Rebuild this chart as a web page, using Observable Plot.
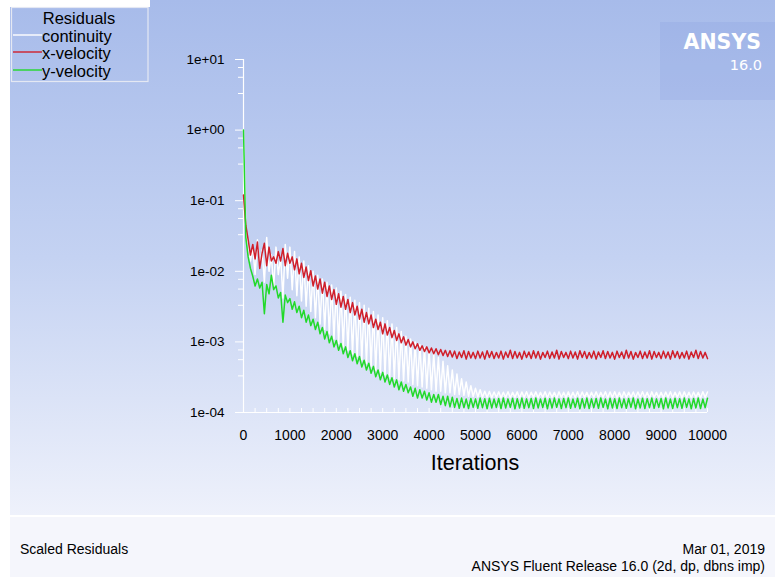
<!DOCTYPE html>
<html>
<head>
<meta charset="utf-8">
<script src="https://cdn.jsdelivr.net/npm/d3@7"></script>
<script src="https://cdn.jsdelivr.net/npm/@observablehq/plot@0.6"></script>
<style>
  html, body { margin: 0; padding: 0; background: #ffffff; }
  #wrap { position: relative; width: 775px; height: 577px; overflow: hidden; background: #ffffff; }
  #bg { position: absolute; left: 10px; top: 0; width: 765px; height: 515px;
        background: linear-gradient(to bottom, #a7bbea 0%, #c4d2f2 50%, #eef1fb 100%); }
  #sep { position: absolute; left: 10px; top: 515px; width: 765px; height: 2px; background: #ffffff; }
  #panel { position: absolute; left: 10px; top: 517px; width: 765px; height: 60px; background: #f5f6fc; }
  #chart { position: absolute; left: 0; top: 0; }
  #over { position: absolute; left: 0; top: 0; }
</style>
</head>
<body>
<div id="wrap">
  <div id="bg"></div>
  <div id="sep"></div>
  <div id="panel"></div>
  <div id="chart"></div>
</div>
<script>
// ---------- data ----------
const seriesNames = ["continuity", "x-velocity", "y-velocity"];
const seriesColors = ["#ffffff", "#d01f2b", "#22d92a"];

const iterations = [
  0, 50, 100, 150, 200, 250, 300, 350, 400, 450,
  500, 550, 600, 650, 700, 750, 800, 850, 900, 950,
  1000, 1050, 1100, 1150, 1200, 1250, 1300, 1350, 1400, 1450,
  1500, 1550, 1600, 1650, 1700, 1750, 1800, 1850, 1900, 1950,
  2000, 2050, 2100, 2150, 2200, 2250, 2300, 2350, 2400, 2450,
  2500, 2550, 2600, 2650, 2700, 2750, 2800, 2850, 2900, 2950,
  3000, 3050, 3100, 3150, 3200, 3250, 3300, 3350, 3400, 3450,
  3500, 3550, 3600, 3650, 3700, 3750, 3800, 3850, 3900, 3950,
  4000, 4050, 4100, 4150, 4200, 4250, 4300, 4350, 4400, 4450,
  4500, 4550, 4600, 4650, 4700, 4750, 4800, 4850, 4900, 4950,
  5000, 5050, 5100, 5150, 5200, 5250, 5300, 5350, 5400, 5450,
  5500, 5550, 5600, 5650, 5700, 5750, 5800, 5850, 5900, 5950,
  6000, 6050, 6100, 6150, 6200, 6250, 6300, 6350, 6400, 6450,
  6500, 6550, 6600, 6650, 6700, 6750, 6800, 6850, 6900, 6950,
  7000, 7050, 7100, 7150, 7200, 7250, 7300, 7350, 7400, 7450,
  7500, 7550, 7600, 7650, 7700, 7750, 7800, 7850, 7900, 7950,
  8000, 8050, 8100, 8150, 8200, 8250, 8300, 8350, 8400, 8450,
  8500, 8550, 8600, 8650, 8700, 8750, 8800, 8850, 8900, 8950,
  9000, 9050, 9100, 9150, 9200, 9250, 9300, 9350, 9400, 9450,
  9500, 9550, 9600, 9650, 9700, 9750, 9800, 9850, 9900, 9950,
  10000
];

const continuity = [
  1.0, 0.04, 0.025, 0.014, 0.022, 0.009, 0.028, 0.012, 0.02, 0.007,
  0.03, 0.01, 0.017, 0.006, 0.022, 0.009, 0.016, 0.0042, 0.024, 0.008,
  0.022, 0.0055, 0.019, 0.0045, 0.016, 0.0038, 0.014, 0.0032, 0.012, 0.0027,
  0.01, 0.0022, 0.0088, 0.0018, 0.0078, 0.0015, 0.007, 0.0013, 0.0064, 0.0011,
  0.0058, 0.00095, 0.0052, 0.00085, 0.0047, 0.00076, 0.0043, 0.00068, 0.0039, 0.00062,
  0.0036, 0.00056, 0.0033, 0.0005, 0.003, 0.00045, 0.0027, 0.0004, 0.0024, 0.00037,
  0.0022, 0.00034, 0.002, 0.00032, 0.0018, 0.0003, 0.0016, 0.00029, 0.0014, 0.00028,
  0.0012, 0.00027, 0.0011, 0.00025, 0.001, 0.00024, 0.00092, 0.00023, 0.00083, 0.00022,
  0.00075, 0.00021, 0.00068, 0.0002, 0.0006, 0.0002, 0.00053, 0.00019, 0.00046, 0.00019,
  0.0004, 0.00018, 0.00035, 0.00018, 0.0003, 0.000175, 0.00027, 0.00017, 0.00024, 0.000168,
  0.00022, 0.000166, 0.00021, 0.000164, 0.0002, 0.000163, 0.000198, 0.000162, 0.000195, 0.000163,
  0.000196, 0.000161, 0.000194, 0.000163, 0.000197, 0.000162, 0.000193, 0.000164, 0.000196, 0.000161,
  0.000195, 0.000163, 0.000197, 0.000161, 0.000194, 0.000164, 0.000196, 0.000162, 0.000193, 0.000163,
  0.000197, 0.000162, 0.000195, 0.000164, 0.000193, 0.000161, 0.000196, 0.000163, 0.000194, 0.000162,
  0.000196, 0.000161, 0.000194, 0.000163, 0.000197, 0.000162, 0.000195, 0.000164, 0.000193, 0.000161,
  0.000194, 0.000163, 0.000196, 0.000162, 0.000193, 0.000164, 0.000197, 0.000161, 0.000195, 0.000163,
  0.000197, 0.000162, 0.000193, 0.000161, 0.000196, 0.000163, 0.000194, 0.000164, 0.000195, 0.000162,
  0.000195, 0.000164, 0.000197, 0.000162, 0.000194, 0.000161, 0.000196, 0.000163, 0.000193, 0.000162,
  0.000193, 0.000161, 0.000195, 0.000163, 0.000197, 0.000162, 0.000194, 0.000164, 0.000196, 0.000161,
  0.000196, 0.000163, 0.000194, 0.000162, 0.000195, 0.000164, 0.000193, 0.000161, 0.000197, 0.000163,
  0.000195
];

const xVelocity = [
  0.12, 0.045, 0.028, 0.017, 0.024, 0.015, 0.026, 0.011, 0.018, 0.025,
  0.012, 0.022, 0.014, 0.016, 0.013, 0.019, 0.014, 0.021, 0.012, 0.018,
  0.013, 0.016, 0.0105, 0.015, 0.0092, 0.013, 0.0082, 0.0115, 0.0074, 0.0102,
  0.0062, 0.0086, 0.0056, 0.0078, 0.0049, 0.007, 0.0044, 0.0062, 0.004, 0.0055,
  0.0034, 0.0048, 0.0031, 0.0044, 0.0029, 0.004, 0.0026, 0.0036, 0.0024, 0.0032,
  0.0021, 0.0029, 0.0019, 0.0026, 0.0018, 0.0024, 0.0016, 0.0021, 0.0015, 0.0019,
  0.0013, 0.0018, 0.00125, 0.0016, 0.00115, 0.00145, 0.00105, 0.0013, 0.00097, 0.00118,
  0.0009, 0.00108, 0.00085, 0.001, 0.0008, 0.00094, 0.00076, 0.00088, 0.00073, 0.00085,
  0.0007, 0.00082, 0.00068, 0.0008, 0.00066, 0.00078, 0.00064, 0.00076, 0.00062, 0.00075,
  0.00061, 0.00074, 0.00058, 0.00072, 0.0006, 0.00075, 0.00057, 0.00073, 0.00059, 0.00071,
  0.00058, 0.00074, 0.00059, 0.00072, 0.00057, 0.00075, 0.0006, 0.00073, 0.00058, 0.00071,
  0.00059, 0.00074, 0.00057, 0.00072, 0.0006, 0.00076, 0.00058, 0.00073, 0.00059, 0.00071,
  0.00057, 0.00074, 0.0006, 0.00072, 0.00058, 0.00075, 0.00059, 0.00073, 0.00057, 0.00071,
  0.0006, 0.00074, 0.00058, 0.00072, 0.00059, 0.00076, 0.00057, 0.00073, 0.0006, 0.00071,
  0.00058, 0.00074, 0.00059, 0.00072, 0.00057, 0.00075, 0.0006, 0.00073, 0.00058, 0.00071,
  0.00059, 0.00074, 0.00057, 0.00072, 0.0006, 0.00075, 0.00058, 0.00073, 0.00059, 0.00071,
  0.00057, 0.00074, 0.0006, 0.00072, 0.00058, 0.00076, 0.00059, 0.00073, 0.00057, 0.00071,
  0.0006, 0.00074, 0.00058, 0.00072, 0.00059, 0.00075, 0.00057, 0.00073, 0.0006, 0.00071,
  0.00058, 0.00074, 0.00059, 0.00072, 0.00057, 0.00075, 0.0006, 0.00073, 0.00058, 0.00071,
  0.00059, 0.00074, 0.00057, 0.00072, 0.0006, 0.00076, 0.00058, 0.00073, 0.00059, 0.00071,
  0.00058
];

const yVelocity = [
  1.0, 0.03, 0.016, 0.011, 0.0085, 0.0062, 0.0078, 0.0058, 0.007, 0.0025,
  0.0065, 0.0048, 0.0088, 0.0055, 0.0062, 0.0042, 0.005, 0.0019, 0.0046, 0.0036,
  0.0041, 0.0029, 0.0037, 0.0026, 0.0032, 0.0022, 0.0028, 0.0019, 0.0024, 0.0017,
  0.0021, 0.0015, 0.0019, 0.0013, 0.0016, 0.0011, 0.0014, 0.00097, 0.0012, 0.00085,
  0.00105, 0.00076, 0.00095, 0.00068, 0.00085, 0.0006, 0.00075, 0.00054, 0.00068, 0.00049,
  0.00062, 0.00044, 0.00055, 0.0004, 0.0005, 0.00036, 0.00045, 0.00032, 0.0004, 0.00029,
  0.00037, 0.00027, 0.00034, 0.00025, 0.00031, 0.00023, 0.00029, 0.00021, 0.00027, 0.0002,
  0.00025, 0.00019, 0.00023, 0.00017, 0.00022, 0.00016, 0.00021, 0.00016, 0.0002, 0.00015,
  0.00019, 0.00014, 0.00018, 0.00014, 0.00018, 0.00013, 0.00017, 0.000125, 0.00017, 0.00012,
  0.000165, 0.000118, 0.000158, 0.000115, 0.00016, 0.000117, 0.000155, 0.000114, 0.000158, 0.000118,
  0.000156, 0.000115, 0.00016, 0.000117, 0.000157, 0.000113, 0.000159, 0.000116, 0.000155, 0.000118,
  0.000158, 0.000114, 0.000161, 0.000116, 0.000156, 0.000118, 0.000159, 0.000113, 0.000157, 0.000116,
  0.00016, 0.000115, 0.000156, 0.000117, 0.000158, 0.000114, 0.000161, 0.000116, 0.000155, 0.000118,
  0.000159, 0.000113, 0.000157, 0.000116, 0.00016, 0.000118, 0.000156, 0.000114, 0.000158, 0.000117,
  0.000161, 0.000115, 0.000155, 0.000118, 0.000159, 0.000113, 0.000157, 0.000116, 0.00016, 0.000114,
  0.000156, 0.000117, 0.000158, 0.000115, 0.000161, 0.000118, 0.000155, 0.000113, 0.000159, 0.000116,
  0.000157, 0.000114, 0.00016, 0.000117, 0.000156, 0.000115, 0.000158, 0.000118, 0.000161, 0.000113,
  0.000155, 0.000116, 0.000159, 0.000114, 0.000157, 0.000117, 0.00016, 0.000115, 0.000156, 0.000118,
  0.000158, 0.000113, 0.000161, 0.000116, 0.000155, 0.000114, 0.000159, 0.000117, 0.000157, 0.000115,
  0.00016, 0.000118, 0.000156, 0.000113, 0.000158, 0.000116, 0.000161, 0.000114, 0.000155, 0.000117,
  0.000159
];

const xTickValues = [0, 1000, 2000, 3000, 4000, 5000, 6000, 7000, 8000, 9000, 10000];
const xTickLabels = ["0", "1000", "2000", "3000", "4000", "5000", "6000", "7000", "8000", "9000", "10000"];
const xMinorTicks = [0, 250, 500, 750, 1000, 1250, 1500, 1750, 2000, 2250, 2500, 2750, 3000, 3250, 3500, 3750,
  4000, 4250, 4500, 4750, 5000, 5250, 5500, 5750, 6000, 6250, 6500, 6750, 7000, 7250, 7500, 7750,
  8000, 8250, 8500, 8750, 9000, 9250, 9500, 9750, 10000];
const yTickValues = [1e-4, 1e-3, 1e-2, 1e-1, 1, 10];
const yTickLabels = ["1e-04", "1e-03", "1e-02", "1e-01", "1e+00", "1e+01"];
const yMinorTicks = [3.3e-4, 5.6e-4, 7.7e-4, 3.3e-3, 5.6e-3, 7.7e-3, 3.3e-2, 5.6e-2, 7.7e-2,
  3.3e-1, 5.6e-1, 7.7e-1, 3.3, 5.6, 7.7];

const xLabel = "Iterations";
const legendTitle = "Residuals";
const footerLeft = "Scaled Residuals";
const footerDate = "Mar 01, 2019";
const footerRelease = "ANSYS Fluent Release 16.0 (2d, dp, dbns imp)";
const logoName = "ANSYS";
const logoVersion = "16.0";

// ---------- build table ----------
const allSeries = [continuity, xVelocity, yVelocity];
const rows = [];
allSeries.forEach((vals, s) => {
  const n = Math.min(vals.length, iterations.length);
  for (let i = 0; i < n; i++) rows.push({series: seriesNames[s], iteration: iterations[i], value: vals[i]});
});

const FONT = "'Liberation Sans', Arial, sans-serif";

const chart = Plot.plot({
  width: 775,
  height: 577,
  marginLeft: 243,
  marginRight: 68,
  marginTop: 59,
  marginBottom: 165,
  style: {background: "transparent", fontFamily: FONT, fontSize: "13.5px", color: "black", overflow: "visible"},
  x: {domain: [0, 10000], axis: null, label: null},
  y: {type: "log", domain: [1e-4, 10], axis: null, label: null},
  color: {domain: seriesNames, range: seriesColors},
  marks: [
    Plot.ruleX([0], {stroke: "white", strokeWidth: 1.2}),
    Plot.ruleY([1e-4], {stroke: "white", strokeWidth: 1.2}),
    Plot.axisY(yTickValues, {anchor: "left", tickSize: 8, tickPadding: 11, stroke: "white", fill: "black",
      tickFormat: d => yTickLabels[yTickValues.indexOf(d)], label: null}),
    Plot.axisY(yMinorTicks, {anchor: "left", tickSize: 5, stroke: "white", tickFormat: () => "", label: null}),
    Plot.axisX(xMinorTicks, {anchor: "bottom", tickSize: 4, dy: -4, stroke: "white", tickFormat: () => "", label: null}),
    Plot.axisX(xTickValues, {anchor: "bottom", tickSize: 0, tickPadding: 18, fill: "black", fontSize: 14,
      tickFormat: d => xTickLabels[xTickValues.indexOf(d)], label: null}),
    Plot.line(rows, {x: "iteration", y: "value", z: "series", stroke: "series", strokeWidth: 1.5})
  ]
});
document.getElementById("chart").appendChild(chart);

// ---------- overlay decorations (legend, logo, footer) ----------
const over = d3.select("#wrap").append("svg").attr("id", "over")
  .attr("width", 775).attr("height", 577).style("font-family", FONT);

// logo panel
over.append("rect").attr("x", 660).attr("y", 22).attr("width", 115).attr("height", 78)
  .attr("fill", "rgb(120,145,215)").attr("fill-opacity", 0.16);
over.append("text").attr("x", 761).attr("y", 49).attr("text-anchor", "end")
  .style("font-family", "'DejaVu Sans', sans-serif").style("font-weight", "bold").style("font-size", "20.5px")
  .attr("fill", "white").text(logoName);
over.append("text").attr("x", 762).attr("y", 70).attr("text-anchor", "end")
  .style("font-family", "'DejaVu Sans', sans-serif").style("font-size", "14.5px")
  .attr("fill", "white").text(logoVersion);

// legend
over.append("rect").attr("x", 10).attr("y", 0).attr("width", 140).attr("height", 7).attr("fill", "white");
over.append("rect").attr("x", 11.5).attr("y", 7.5).attr("width", 136.5).attr("height", 74)
  .attr("fill", "none").attr("stroke", "#e4e8f3").attr("stroke-width", 1.2);
over.append("text").attr("x", 79).attr("y", 23.5).attr("text-anchor", "middle")
  .style("font-size", "16.5px").attr("fill", "black").text(legendTitle);
const rowY = [35, 52, 70];
seriesNames.forEach((name, i) => {
  over.append("line").attr("x1", 13).attr("x2", 42).attr("y1", rowY[i]).attr("y2", rowY[i])
    .attr("stroke", seriesColors[i]).attr("stroke-width", 1.4);
  over.append("text").attr("x", 42).attr("y", rowY[i] + 6.5)
    .style("font-size", "16.5px").attr("fill", "black").text(name);
});

// axis title
over.append("text").attr("x", 475).attr("y", 470).attr("text-anchor", "middle")
  .style("font-size", "21.5px").attr("fill", "black").text(xLabel);

// footer
over.append("text").attr("x", 20).attr("y", 554).style("font-size", "14px").attr("fill", "black").text(footerLeft);
over.append("text").attr("x", 765).attr("y", 554).attr("text-anchor", "end").style("font-size", "14px").attr("fill", "black").text(footerDate);
over.append("text").attr("x", 765).attr("y", 571).attr("text-anchor", "end").style("font-size", "14px").attr("fill", "black").text(footerRelease);
</script>
</body>
</html>
